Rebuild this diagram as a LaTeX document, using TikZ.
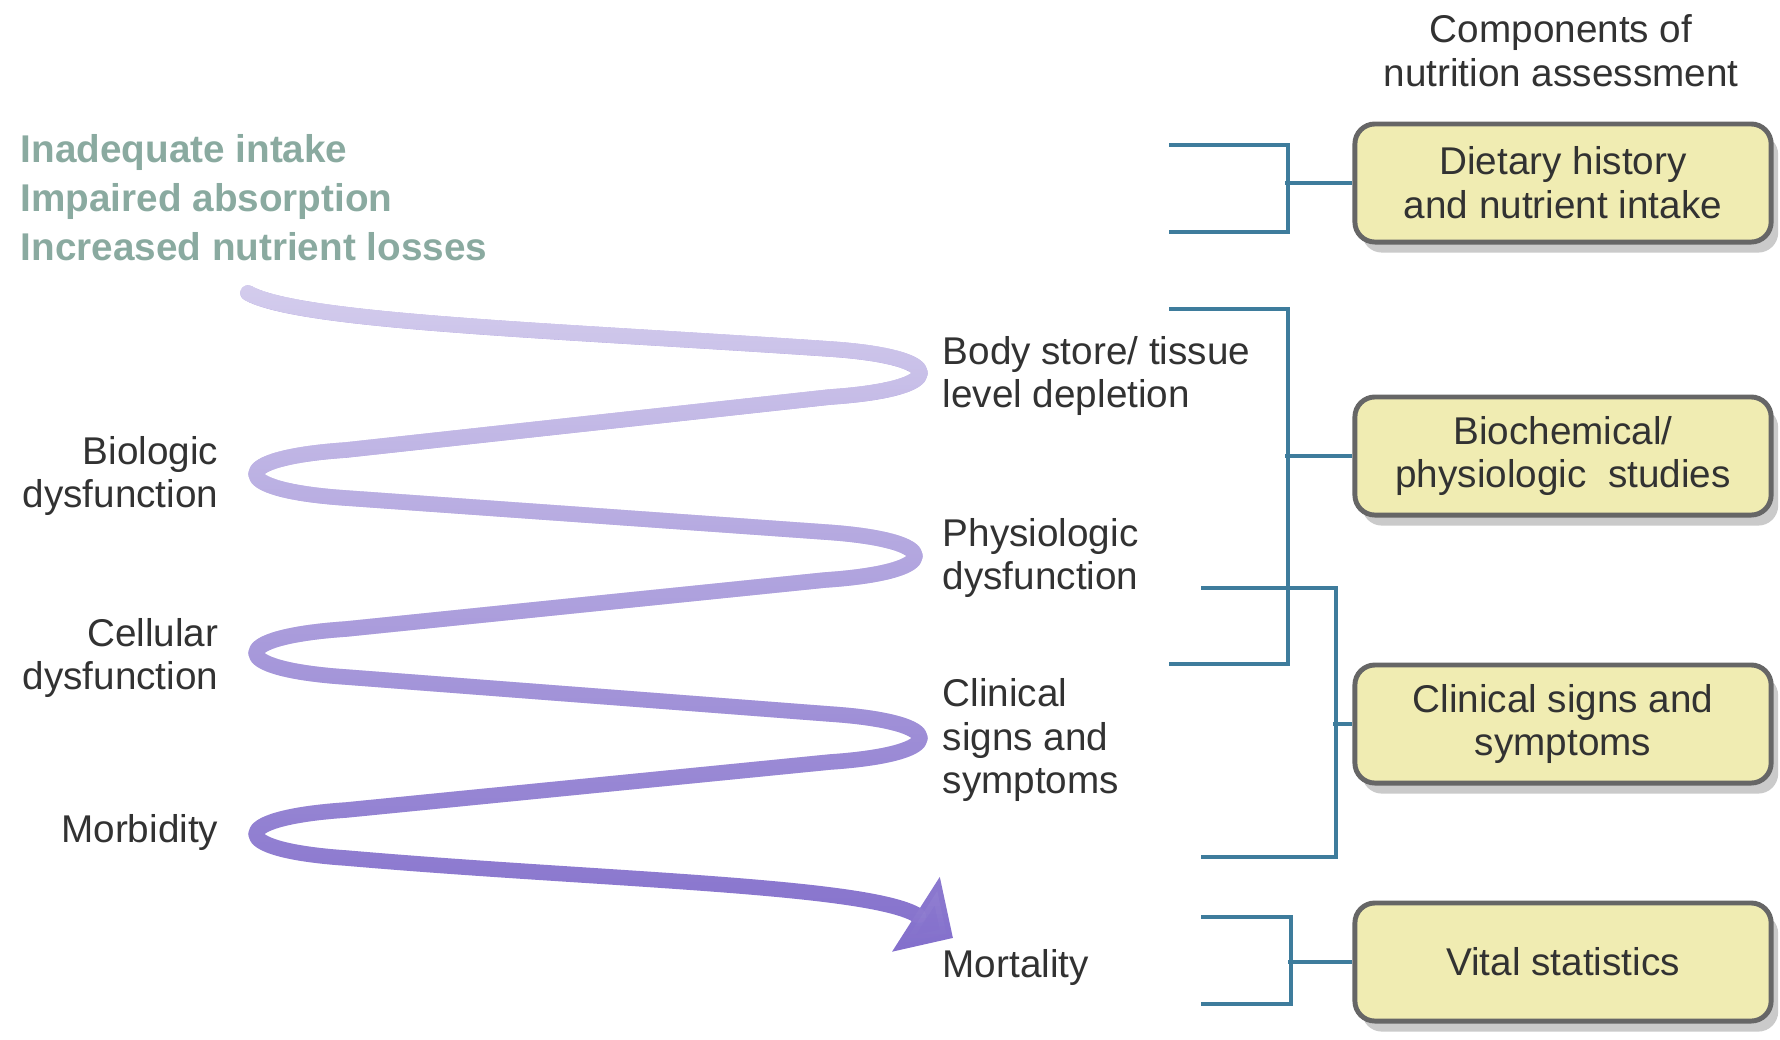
\documentclass[tikz,border=0pt]{standalone}
\usepackage{fontspec}
\setmainfont{Liberation Sans}
\usetikzlibrary{arrows.meta,shadows,fadings}
\definecolor{spiralpurple}{RGB}{132,112,204}
\definecolor{bracketblue}{RGB}{62,124,156}
\definecolor{boxyellow}{RGB}{240,236,178}
\definecolor{causegreen}{RGB}{138,170,160}
\definecolor{labelgray}{RGB}{50,50,50}
\tikzfading[name=spiralfade, top color=transparent!35, bottom color=transparent!100]

\begin{document}
\begin{tikzpicture}[x=0.01cm, y=-0.01cm,
  every node/.style={font=\fontsize{11}{12.5}\selectfont, text=labelgray},
  stage/.style={inner sep=0pt, align=left},
  assess/.style={draw=gray!80!black, line width=1.4pt, fill=boxyellow, rounded corners=0.2cm,
    minimum width=4.16cm, minimum height=1.18cm, align=center,
    drop shadow={shadow xshift=2pt, shadow yshift=-3pt, fill=gray!70, opacity=0.6}},
  bracket/.style={draw=bracketblue, line width=1.1pt},
  spiralline/.style={line width=0.155cm, line cap=round, line join=round}]
\useasboundingbox (0,0) rectangle (1780,1039);

\node[stage, align=center] (head) at (1561,51) {Components of\\nutrition assessment};
\node[stage, anchor=west, text=causegreen, font=\bfseries\fontsize{11}{13.9}\selectfont] (causes) at (20,198) {Inadequate intake\\Impaired absorption\\Increased nutrient losses};

\node[stage, anchor=east, align=right] (biologic) at (219,476) {Biologic\\dysfunction};
\node[stage, anchor=east, align=right] (cellular) at (219,658) {Cellular\\dysfunction};
\node[stage, anchor=east] (morbidity) at (219,832) {Morbidity};
\node[stage, anchor=west] (depletion) at (942,376) {Body store/ tissue\\level depletion};
\node[stage, anchor=west] (physio) at (942,558) {Physiologic\\dysfunction};
\node[stage, anchor=west] (clinical) at (942,740) {Clinical\\signs and\\symptoms};
\node[stage, anchor=west] (mortality) at (942,967) {Mortality};

\node[assess] (diet) at (1563,183) {Dietary history\\and nutrient intake};
\node[assess] (biochem) at (1563,456) {Biochemical/\\physiologic\ \ studies};
\node[assess] (signs) at (1563,724) {Clinical signs and\\symptoms};
\node[assess] (vital) at (1563,962) {Vital statistics};

% brackets
\coordinate (d1) at (1169,145);
\coordinate (d2) at (1169,232);
\coordinate (s1) at (1169,309);
\coordinate (s2) at (1169,664);
\coordinate (c1) at (1201,588);
\coordinate (c2) at (1201,857);
\coordinate (v1) at (1201,917);
\coordinate (v2) at (1201,1004);
\draw[bracket] (d1) -- ++(119,0) |- (d2);
\draw[bracket] (diet.west) -- ++(-67,0);
\draw[bracket] (s1) -- ++(119,0) |- (s2);
\draw[bracket] (biochem.west) -- ++(-67,0);
\draw[bracket] (c1) -- ++(135,0) |- (c2);
\draw[bracket] (signs.west) -- ++(-19,0);
\draw[bracket] (v1) -- ++(90,0) |- (v2);
\draw[bracket] (vital.west) -- ++(-64,0);

% spiral
\draw[spiralline, spiralpurple, -{Triangle[length=4.4mm, width=8.6mm]},
  postaction={draw=white, path fading=spiralfade}]
  (248,293) .. controls (300,322) and (550,330) .. (830,349)
  .. controls (950,357) and (950,389) .. (830,397)
  -- (346,450) .. controls (226,458) and (226,490) .. (346,498)
  -- (825,532) .. controls (945,540) and (945,572) .. (825,580)
  -- (346,629) .. controls (226,637) and (226,669) .. (346,677)
  -- (830,714) .. controls (950,722) and (950,754) .. (830,762)
  -- (346,810) .. controls (226,818) and (226,850) .. (346,858)
  .. controls (600,880) and (870,885) .. (953,938);
\end{tikzpicture}
\end{document}
